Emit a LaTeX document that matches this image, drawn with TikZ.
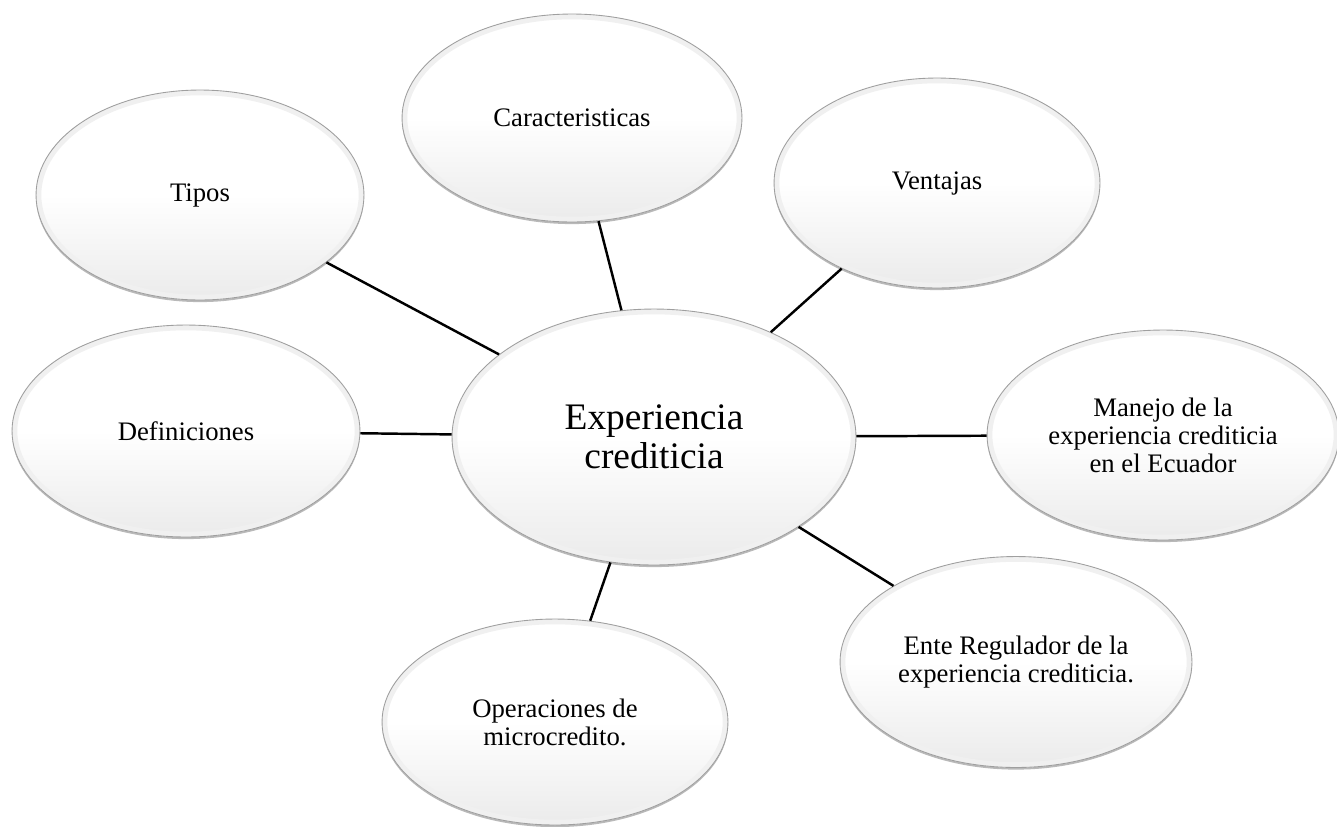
\documentclass[tikz,border=0pt]{standalone}
\usepackage{fontspec}
\setmainfont{Liberation Serif}
\usetikzlibrary{shapes.geometric,calc}

\begin{document}
\begin{tikzpicture}[x=0.02cm,y=0.02cm,
  burbuja/.style={ellipse,draw=gray!75,line width=0.5pt,fill=white,
    preaction={fill=gray!55,transform canvas={yshift=-1.2pt}},
    path picture={
      \fill[white] (path picture bounding box.south west) rectangle (path picture bounding box.north east);
      \shade[top color=white,bottom color=gray!16]
        (path picture bounding box.west) rectangle (path picture bounding box.south east);
      \draw[gray!12,line width=6pt]
        let \p1=(path picture bounding box.north east),\p2=(path picture bounding box.center)
        in (\p2) ellipse ({\x1-\x2} and {\y1-\y2});},
    inner sep=0pt,align=center,font=\fontsize{15.2}{16}\selectfont},
  enlace/.style={line width=1.4pt}]
\useasboundingbox (0,0) rectangle (1337,-826);
\node (centro) [burbuja,minimum width=8.08cm,minimum height=5.12cm,
  font=\fontsize{21.3}{22}\selectfont] at (654,-437) {Experiencia\\crediticia};
\node (tipos) [burbuja,minimum width=6.56cm,minimum height=4.2cm] at (200,-195) {Tipos};
\node (caract) [burbuja,minimum width=6.8cm,minimum height=4.16cm] at (572,-118) {Caracteristicas};
\node (ventajas) [burbuja,minimum width=6.52cm,minimum height=4.2cm] at (937,-183) {Ventajas};
\node (defin) [burbuja,minimum width=6.96cm,minimum height=4.24cm] at (186,-431) {Definiciones};
\node (manejo) [burbuja,minimum width=7.04cm,minimum height=4.2cm] at (1163,-435)
  {Manejo de la\\experiencia crediticia\\en el Ecuador};
\node (ente) [burbuja,minimum width=7.04cm,minimum height=4.22cm] at (1016,-662)
  {Ente Regulador de la\\experiencia crediticia.};
\node (operac) [burbuja,minimum width=6.92cm,minimum height=4.12cm] at (555,-722)
  {Operaciones de\\microcredito.};
% enlaces al centro
\draw[enlace] (tipos) -- (centro);
\draw[enlace] (caract) -- (centro);
\draw[enlace] (ventajas) -- (centro);
\draw[enlace] (defin) -- (centro);
\draw[enlace] (manejo) -- (centro);
\draw[enlace] (ente) -- (centro);
\draw[enlace] (operac) -- (centro);
\end{tikzpicture}
\end{document}
